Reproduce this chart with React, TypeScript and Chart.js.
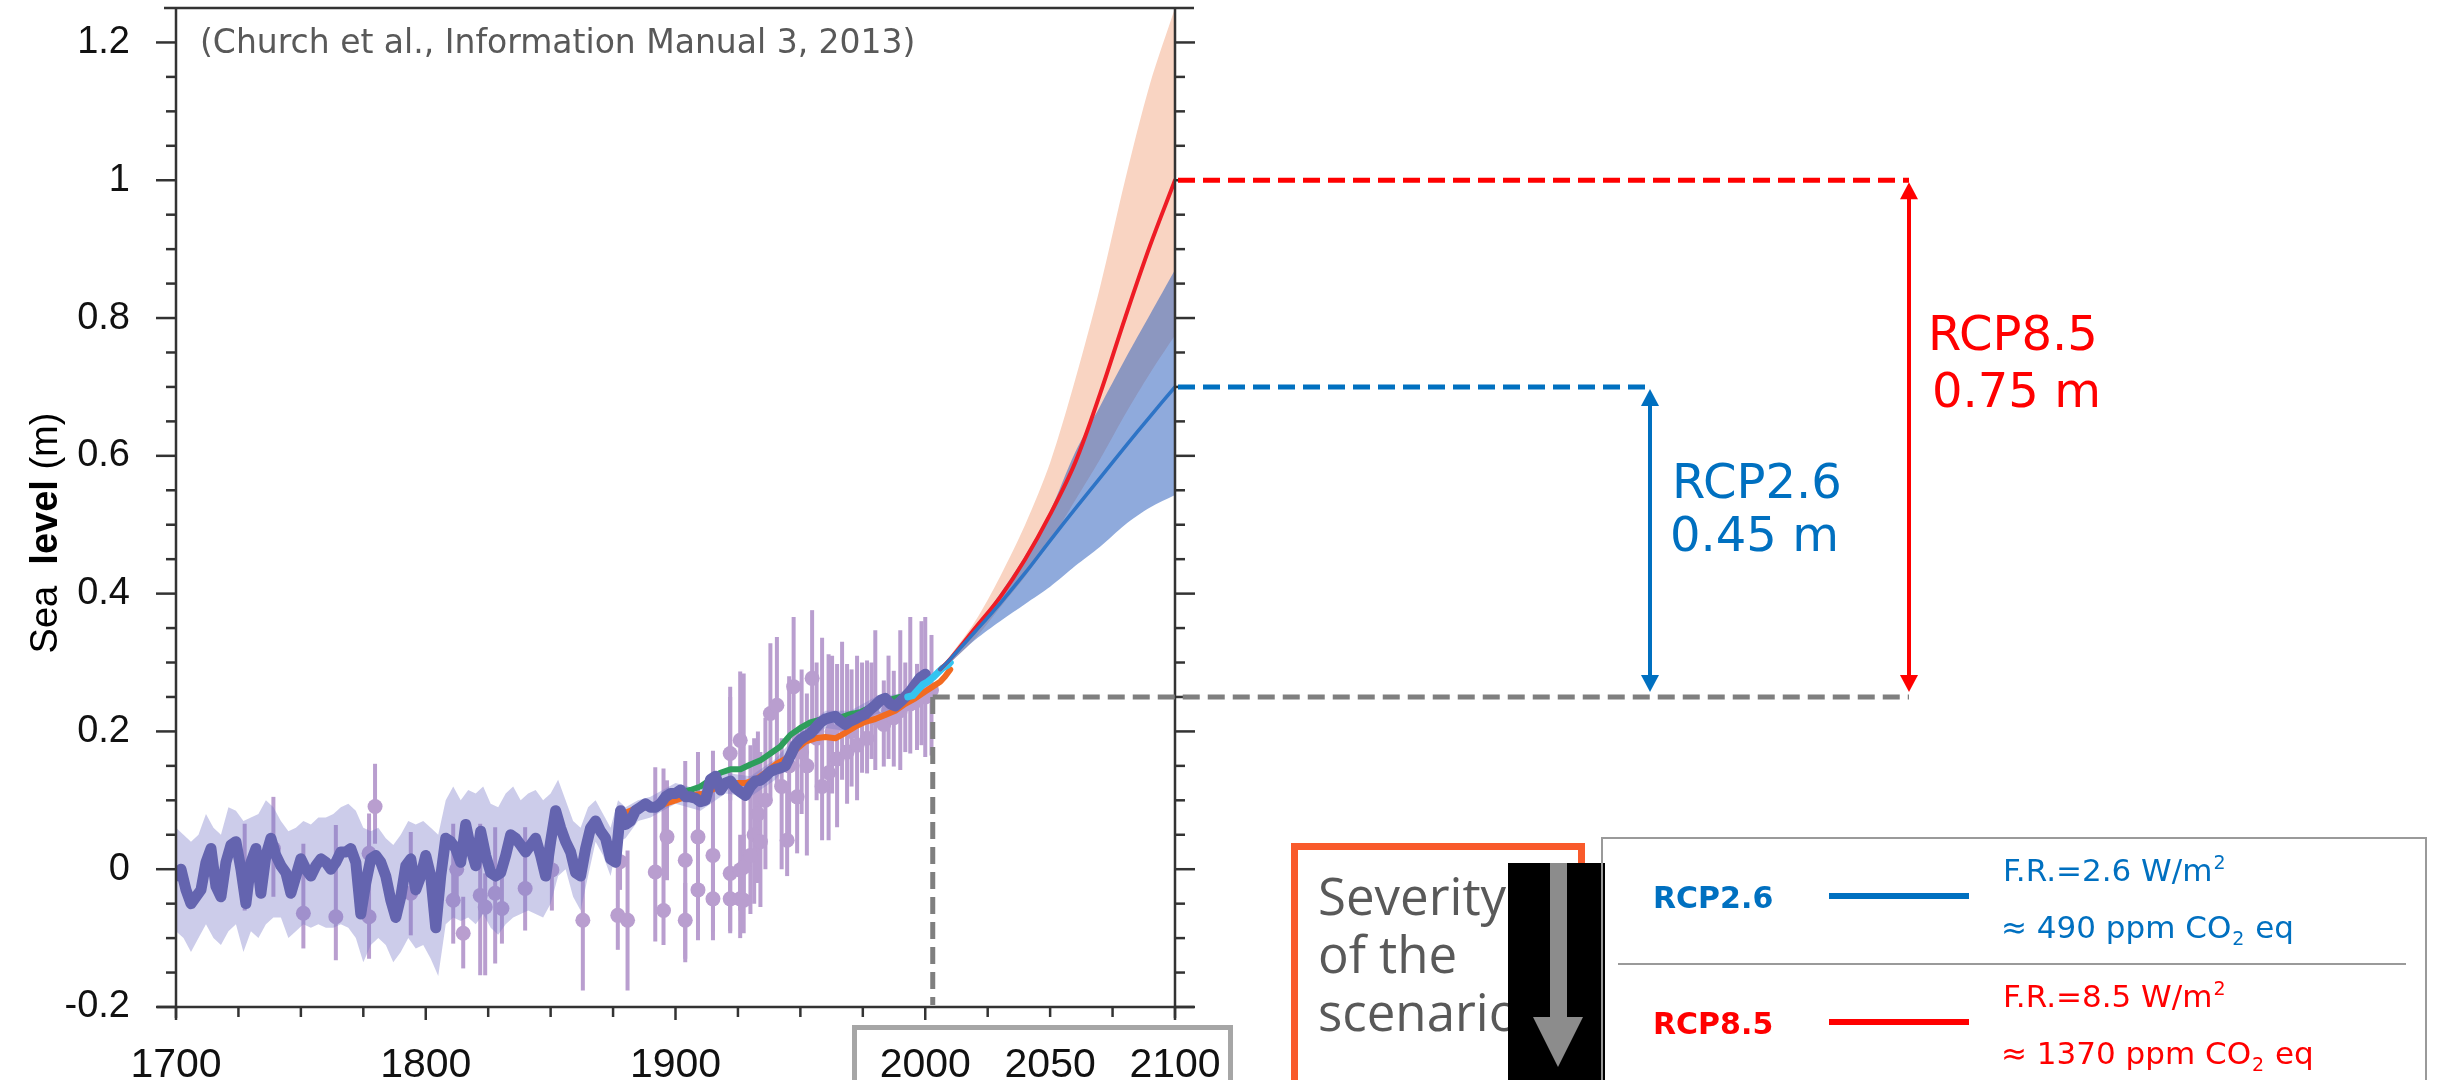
import { useEffect, useRef } from "react";
import { Chart, registerables } from "chart.js";

Chart.register(...registerables);

// ---- Reconstructed global mean sea level (m) ----
const reconYears = [
  1700, 1702, 1704, 1706, 1708, 1710, 1712, 1714, 1716, 1718, 1720, 1722, 1724, 1726, 1728, 1730,
  1732, 1734, 1736, 1738, 1740, 1742, 1744, 1746, 1748, 1750, 1752, 1754, 1756, 1758, 1760, 1762,
  1764, 1766, 1768, 1770, 1772, 1774, 1776, 1778, 1780, 1782, 1784, 1786, 1788, 1790, 1792, 1794,
  1796, 1798, 1800, 1802, 1804, 1806, 1808, 1810, 1812, 1814, 1816, 1818, 1820, 1822, 1824, 1826,
  1828, 1830, 1832, 1834, 1836, 1838, 1840, 1842, 1844, 1846, 1848, 1850, 1852, 1854, 1856, 1858,
  1860, 1862, 1864, 1866, 1868, 1870, 1872, 1874, 1876, 1878, 1880, 1882, 1884, 1886, 1888, 1890,
  1892, 1894, 1896, 1898, 1900, 1902, 1904, 1906, 1908, 1910, 1912, 1914, 1916, 1918, 1920, 1922,
  1924, 1926, 1928, 1930, 1932, 1934, 1936, 1938, 1940, 1942, 1944, 1946, 1948, 1950, 1952, 1954,
  1956, 1958, 1960, 1962, 1964, 1966, 1968, 1970, 1972, 1974, 1976, 1978, 1980, 1982, 1984, 1986,
  1988, 1990, 1992, 1994, 1996, 1998, 2000,
];
const reconLevel = [
  -0.01, 0.0, -0.03, -0.05, -0.04, -0.03, 0.01, 0.03, -0.025, -0.04, 0.01, 0.035, 0.04, 0.0, -0.05, 0.01,
  0.03, -0.035, 0.02, 0.045, 0.02, 0.005, -0.005, -0.035, -0.01, 0.015, 0.0, -0.01, 0.005, 0.015, 0.01, 0.0,
  0.01, 0.025, 0.025, 0.03, 0.01, -0.065, -0.02, 0.015, 0.02, 0.01, -0.01, -0.045, -0.07, -0.04, 0.005, 0.015,
  -0.03, -0.01, 0.02, -0.01, -0.085, -0.01, 0.045, 0.04, 0.03, 0.01, 0.065, 0.03, 0.005, 0.055, 0.02, -0.005,
  -0.01, -0.005, 0.02, 0.05, 0.045, 0.035, 0.025, 0.035, 0.045, 0.02, -0.01, 0.04, 0.085, 0.06, 0.04, 0.025,
  -0.005, -0.01, 0.03, 0.06, 0.07, 0.055, 0.045, 0.015, 0.01, 0.085, 0.065, 0.07, 0.085, 0.09, 0.095, 0.09,
  0.09, 0.095, 0.105, 0.11, 0.11, 0.115, 0.105, 0.105, 0.103, 0.098, 0.1, 0.13, 0.135, 0.115, 0.125, 0.128,
  0.118, 0.112, 0.107, 0.12, 0.128, 0.129, 0.135, 0.142, 0.145, 0.147, 0.15, 0.165, 0.18, 0.188, 0.193, 0.197,
  0.205, 0.213, 0.218, 0.22, 0.222, 0.215, 0.21, 0.215, 0.218, 0.222, 0.225, 0.232, 0.238, 0.245, 0.248, 0.24,
  0.237, 0.243, 0.25, 0.258, 0.268, 0.278, 0.283,
];

// Uncertainty envelope of the reconstruction
const envYears = [
  1700, 1703, 1706, 1709, 1712, 1715, 1718, 1721, 1724, 1727, 1730, 1733, 1736, 1739, 1742, 1745,
  1748, 1751, 1754, 1757, 1760, 1763, 1766, 1769, 1772, 1775, 1778, 1781, 1784, 1787, 1790, 1793,
  1796, 1799, 1802, 1805, 1808, 1811, 1814, 1817, 1820, 1823, 1826, 1829, 1832, 1835, 1838, 1841,
  1844, 1847, 1850, 1853, 1856, 1859, 1862, 1865, 1868, 1871, 1874, 1877, 1880, 1885, 1890, 1900,
  1910, 1920, 1930, 1940, 1950, 1960, 1970, 1980, 1990, 2000,
];
const envHigh = [
  0.06, 0.05, 0.04, 0.05, 0.08, 0.06, 0.05, 0.09, 0.085, 0.07, 0.075, 0.08, 0.1, 0.09, 0.07, 0.055,
  0.06, 0.07, 0.065, 0.075, 0.075, 0.08, 0.09, 0.095, 0.085, 0.06, 0.055, 0.06, 0.045, 0.035, 0.05, 0.07,
  0.065, 0.07, 0.06, 0.05, 0.1, 0.12, 0.1, 0.115, 0.11, 0.12, 0.095, 0.09, 0.11, 0.12, 0.1, 0.11,
  0.115, 0.1, 0.11, 0.13, 0.1, 0.07, 0.06, 0.09, 0.1, 0.08, 0.06, 0.1, 0.09, 0.1, 0.105, 0.125,
  0.115, 0.14, 0.135, 0.16, 0.2, 0.23, 0.23, 0.25, 0.255, 0.29,
];
const envLow = [
  -0.09, -0.1, -0.12, -0.1, -0.08, -0.1, -0.11, -0.09, -0.08, -0.12, -0.09, -0.1, -0.08, -0.07, -0.07, -0.1,
  -0.09, -0.08, -0.085, -0.08, -0.085, -0.085, -0.08, -0.085, -0.1, -0.135, -0.11, -0.1, -0.11, -0.135, -0.12, -0.1,
  -0.115, -0.11, -0.13, -0.155, -0.08, -0.07, -0.075, -0.07, -0.08, -0.065, -0.085, -0.095, -0.08, -0.07, -0.065, -0.06,
  -0.065, -0.07, -0.05, -0.01, 0.0, -0.04, -0.06, -0.01, 0.04, 0.02, -0.01, 0.04, 0.045, 0.07, 0.075, 0.095,
  0.085, 0.11, 0.105, 0.13, 0.175, 0.205, 0.2, 0.225, 0.23, 0.275,
];

// Individual estimates with their error ranges (m)
const proxyYears = [
  1727.5, 1739, 1751, 1764, 1777.3, 1777.3, 1779.7, 1794, 1811, 1812.4, 1815, 1821.8, 1823.8, 1827.8, 1830.5, 1839.8,
  1850.5, 1862.9, 1876.9, 1877.8, 1880.8, 1891.9, 1895.2, 1896.6, 1903.9, 1903.9, 1909, 1909, 1915, 1915, 1921.9, 1921.9,
  1921.9, 1925.9, 1925.9, 1925.9, 1927.3, 1927.3, 1930, 1931.5, 1933, 1934, 1936, 1938, 1940.6, 1942.5,
  1944.7, 1945.5, 1947.3, 1948.7, 1950.5, 1952.6, 1954.7, 1956.5, 1958.7, 1961.3, 1962.7, 1964.7, 1966.7, 1968.7, 1970.5, 1972.7,
  1974.7, 1976.7, 1978.5, 1980, 1983.4, 1985.3, 1987.4, 1990, 1992, 1994, 1996.7, 1998.5, 2000, 2002.5,
];
const proxyLevel = [
  0.0, 0.03, -0.064, -0.069, -0.069, 0.023, 0.091, -0.035, -0.045, 0.0, -0.093, -0.038, -0.055, -0.035, -0.057, -0.028,
  -0.001, -0.074, -0.067, 0.011, -0.074, -0.004, -0.06, 0.047, 0.013, -0.074, 0.047, -0.03, 0.02, -0.043, -0.006, -0.043,
  0.168, -0.001, -0.043, 0.187, 0.003, -0.045, 0.02, 0.05, 0.08, 0.04, 0.1, 0.226, 0.238, 0.12,
  0.042, 0.15, 0.265, 0.105, 0.17, 0.15, 0.277, 0.19, 0.12, 0.14, 0.2, 0.16, 0.21, 0.17, 0.2, 0.18,
  0.22, 0.19, 0.23, 0.22, 0.21, 0.23, 0.22, 0.23, 0.24, 0.24, 0.245, 0.26, 0.25, 0.26,
];
const proxyLow = [
  -0.06, -0.04, -0.115, -0.132, -0.13, -0.02, 0.037, -0.096, -0.108, -0.05, -0.144, -0.154, -0.154, -0.137, -0.108, -0.089,
  -0.06, -0.176, -0.117, -0.03, -0.176, -0.105, -0.11, -0.016, -0.135, -0.13, -0.103, -0.09, -0.103, -0.09, -0.093, -0.09,
  0.1, -0.06, -0.1, 0.12, -0.05, -0.093, -0.065, -0.05, -0.02, -0.055, 0.0, 0.1, 0.12, 0.0,
  -0.01, 0.05, 0.18, 0.023, 0.08, 0.02, 0.2, 0.1, 0.042, 0.042, 0.11, 0.061, 0.13, 0.095, 0.12, 0.1,
  0.14, 0.139, 0.16, 0.144, 0.149, 0.16, 0.149, 0.144, 0.17, 0.168, 0.173, 0.18, 0.163, 0.165,
];
const proxyHigh = [
  0.066, 0.105, 0.037, 0.064, 0.081, 0.06, 0.153, 0.054, 0.066, 0.04, -0.04, 0.066, -0.006, 0.061, 0.018, 0.061,
  0.055, 0.02, 0.018, 0.05, 0.027, 0.148, 0.146, 0.129, 0.157, -0.02, 0.17, 0.03, 0.172, 0.01, 0.265, 0.0,
  0.25, 0.05, 0.0, 0.287, 0.05, 0.284, 0.18, 0.19, 0.2, 0.17, 0.22, 0.328, 0.337, 0.19,
  0.12, 0.28, 0.366, 0.2, 0.29, 0.255, 0.376, 0.3, 0.336, 0.312, 0.31, 0.298, 0.33, 0.298, 0.29, 0.31,
  0.3, 0.303, 0.3, 0.347, 0.274, 0.31, 0.288, 0.347, 0.3, 0.366, 0.298, 0.36, 0.366, 0.34,
];

// Tide-gauge reconstructions
const gaugeAYears = [
  1880, 1884, 1888, 1892, 1896, 1900, 1904, 1908, 1912, 1916, 1920, 1924, 1928, 1932, 1936, 1940,
  1944, 1948, 1952, 1956, 1960, 1964, 1968, 1972, 1976, 1980, 1984, 1988, 1992, 1996, 2000, 2003,
  2006, 2008, 2010,
];
const gaugeALevel = [
  0.082, 0.088, 0.09, 0.09, 0.095, 0.1, 0.105, 0.108, 0.11, 0.118, 0.124, 0.125, 0.125, 0.13, 0.14, 0.152,
  0.16, 0.173, 0.185, 0.19, 0.192, 0.19, 0.198, 0.207, 0.214, 0.218, 0.224, 0.23, 0.24, 0.248, 0.258, 0.265,
  0.272, 0.28, 0.29,
];
const gaugeBYears = [
  1902, 1906, 1910, 1914, 1918, 1922, 1926, 1930, 1934, 1938, 1942, 1946, 1950, 1954, 1958, 1962,
  1966, 1970, 1974, 1978, 1982, 1986, 1990,
];
const gaugeBLevel = [
  0.112, 0.115, 0.12, 0.13, 0.14, 0.145, 0.145, 0.152, 0.158, 0.168, 0.178, 0.195, 0.205, 0.213, 0.217, 0.22,
  0.22, 0.225, 0.228, 0.235, 0.242, 0.246, 0.25,
];

// Satellite altimetry
const altYears = [1993, 1995, 1997, 1999, 2001, 2003, 2005, 2007, 2009, 2010];
const altLevel = [0.25, 0.252, 0.26, 0.268, 0.272, 0.278, 0.285, 0.292, 0.296, 0.3];

// Projections to 2100 (median and likely range)
const projYears = [2006, 2010, 2020, 2030, 2040, 2050, 2060, 2070, 2080, 2090, 2100];
const rcp26Mid = [0.29, 0.305, 0.345, 0.386, 0.43, 0.477, 0.523, 0.568, 0.613, 0.657, 0.7];
const rcp26High = [0.29, 0.305, 0.35, 0.4, 0.455, 0.52, 0.605, 0.672, 0.74, 0.805, 0.87];
const rcp26Low = [0.29, 0.3, 0.333, 0.36, 0.385, 0.41, 0.44, 0.468, 0.5, 0.525, 0.543];
const rcp85Mid = [0.29, 0.305, 0.35, 0.395, 0.45, 0.515, 0.59, 0.69, 0.8, 0.905, 1.0];
const rcp85High = [0.29, 0.31, 0.36, 0.425, 0.5, 0.59, 0.71, 0.845, 1.0, 1.14, 1.25];
const rcp85Low = [0.29, 0.3, 0.335, 0.38, 0.425, 0.475, 0.535, 0.595, 0.66, 0.72, 0.775];

// Scenario summary
const scenarioNames = ["RCP2.6", "RCP8.5"];
const scenarioRise = [0.45, 0.75];
const scenarioForcing = ["2.6", "8.5"];
const scenarioCO2 = ["490", "1370"];
const scenarioColors = ["#0070C0", "#FF0000"];
const referenceYear = 2003;

// Axes
const yTickValues = [-0.2, 0, 0.2, 0.4, 0.6, 0.8, 1, 1.2];
const yTickLabels = ["-0.2", "0", "0.2", "0.4", "0.6", "0.8", "1", "1.2"];
const xTickValues = [1700, 1800, 1900, 2000, 2050, 2100];
const xTickLabels = ["1700", "1800", "1900", "2000", "2050", "2100"];

const pts = (xs: number[], ys: number[]) => xs.map((x, i) => ({ x, y: ys[i] }));
const CLEAR = "rgba(0,0,0,0)";
const PROXY_COLOR = "#B99ECF";
const PROXY_INDEX = 4;

const line = (ctx: CanvasRenderingContext2D, x1: number, y1: number, x2: number, y2: number) => {
  ctx.beginPath();
  ctx.moveTo(x1, y1);
  ctx.lineTo(x2, y2);
  ctx.stroke();
};

const vArrow = (ctx: CanvasRenderingContext2D, x: number, yTop: number, yBot: number, color: string) => {
  const hh = 17;
  const hw = 9;
  ctx.strokeStyle = color;
  ctx.fillStyle = color;
  ctx.lineWidth = 4;
  ctx.setLineDash([]);
  line(ctx, x, yTop + hh - 2, x, yBot - hh + 2);
  ctx.beginPath();
  ctx.moveTo(x, yTop);
  ctx.lineTo(x - hw, yTop + hh);
  ctx.lineTo(x + hw, yTop + hh);
  ctx.closePath();
  ctx.fill();
  ctx.beginPath();
  ctx.moveTo(x, yBot);
  ctx.lineTo(x - hw, yBot - hh);
  ctx.lineTo(x + hw, yBot - hh);
  ctx.closePath();
  ctx.fill();
};

// Axis boxes keep their fixed size and claim no extra room for overhanging labels
const fixBox = (s: any, w: number | null, h: number | null) => {
  if (w !== null) s.width = w;
  if (h !== null) s.height = h;
  s.paddingTop = 0;
  s.paddingBottom = 0;
  s.paddingLeft = 0;
  s.paddingRight = 0;
};

const decorations = {
  id: "decorations",
  beforeDatasetDraw(chart: any, args: any) {
    if (args.index !== PROXY_INDEX) return;
    const { ctx, scales } = chart;
    ctx.save();
    ctx.strokeStyle = PROXY_COLOR;
    ctx.lineWidth = 4;
    proxyYears.forEach((yr, i) => {
      const px = scales.x.getPixelForValue(yr);
      line(ctx, px, scales.y.getPixelForValue(proxyLow[i]), px, scales.y.getPixelForValue(proxyHigh[i]));
    });
    ctx.restore();
  },
  afterDraw(chart: any) {
    const { ctx, chartArea: a, scales } = chart;
    const xs = scales.x;
    const ys = scales.y;
    ctx.save();

    // plot frame
    ctx.strokeStyle = "#333333";
    ctx.lineWidth = 2.5;
    line(ctx, a.left, a.top, a.left, a.bottom + 11);
    line(ctx, a.right, a.top, a.right, a.bottom + 11);
    line(ctx, a.left - 19, a.bottom, a.right + 19, a.bottom);
    line(ctx, a.left - 12, a.top, a.right + 19, a.top);

    // y ticks on both sides, minor every 0.05
    for (let k = 0; k <= 28; k++) {
      const v = -0.2 + k * 0.05;
      const major = yTickValues.some((t) => Math.abs(t - v) < 1e-6);
      const len = major ? 20 : 10;
      const py = ys.getPixelForValue(v);
      line(ctx, a.left - len, py, a.left, py);
      line(ctx, a.right, py, a.right + len, py);
    }
    // x ticks every 25 years
    for (let yr = 1700; yr <= 2100; yr += 25) {
      const px = xs.getPixelForValue(yr);
      line(ctx, px, a.bottom, px, a.bottom + (yr % 100 === 0 ? 13 : 10));
    }

    // source note
    ctx.fillStyle = "#595959";
    ctx.font = "33px 'DejaVu Sans'";
    ctx.textBaseline = "alphabetic";
    ctx.textAlign = "left";
    ctx.fillText("(Church et al., Information Manual 3, 2013)", 200, 53);

    // y-axis title
    ctx.save();
    ctx.translate(47, 533);
    ctx.rotate(-Math.PI / 2);
    ctx.fillStyle = "#000";
    ctx.textBaseline = "middle";
    const parts: [string, string][] = [
      ["Sea  ", "38px 'Liberation Sans'"],
      ["level", "bold 38px 'Liberation Sans'"],
      [" (m)", "38px 'Liberation Sans'"],
    ];
    let total = 0;
    parts.forEach(([t, f]) => {
      ctx.font = f;
      total += ctx.measureText(t).width;
    });
    let cx = -total / 2;
    parts.forEach(([t, f]) => {
      ctx.font = f;
      ctx.fillText(t, cx, 0);
      cx += ctx.measureText(t).width;
    });
    ctx.restore();

    // box around the projection-period year labels
    ctx.strokeStyle = "#A6A6A6";
    ctx.lineWidth = 5;
    ctx.strokeRect(854.5, 1027.5, 376, 100);

    // rise annotations
    const endLevels = [rcp26Mid[rcp26Mid.length - 1], rcp85Mid[rcp85Mid.length - 1]];
    const baseLevel = endLevels[1] - scenarioRise[1];
    const arrowX = [1650, 1909];
    const textX = [1672, 1928];
    const textY = [498, 350];
    const yBase = ys.getPixelForValue(baseLevel);
    const x2100 = xs.getPixelForValue(2100);

    ctx.lineWidth = 5;
    ctx.setLineDash([17, 8]);
    ctx.strokeStyle = "#7F7F7F";
    const xRef = xs.getPixelForValue(referenceYear);
    line(ctx, xRef, yBase, arrowX[1], yBase);
    line(ctx, xRef, yBase, xRef, a.bottom - 2);
    for (let i = 0; i < 2; i++) {
      const yEnd = ys.getPixelForValue(baseLevel + scenarioRise[i]);
      ctx.setLineDash([17, 8]);
      ctx.lineWidth = 5;
      ctx.strokeStyle = scenarioColors[i];
      line(ctx, x2100 + 3, yEnd, arrowX[i], yEnd);
      vArrow(ctx, arrowX[i], yEnd + 2, yBase - 5, scenarioColors[i]);
      ctx.fillStyle = scenarioColors[i];
      ctx.font = "48px 'DejaVu Sans'";
      ctx.textAlign = "left";
      ctx.fillText(scenarioNames[i], textX[i], textY[i]);
      ctx.fillText(`${scenarioRise[i].toFixed(2)} m`, textX[i] + (i === 1 ? 4 : -2), textY[i] + (i === 1 ? 57 : 53));
    }
    ctx.setLineDash([]);

    // severity box
    ctx.strokeStyle = "#F95A2B";
    ctx.lineWidth = 7;
    ctx.strokeRect(1294.5, 846.5, 287, 300);
    ctx.fillStyle = "#595959";
    ctx.font = "51px 'Open Sans'";
    ctx.fillText("Severity", 1318, 915);
    ctx.fillText("of the", 1318, 973);
    ctx.fillText("scenario", 1318, 1031);
    ctx.fillStyle = "#000000";
    ctx.fillRect(1508, 863, 97, 220);
    ctx.fillStyle = "#8C8C8C";
    ctx.fillRect(1550, 863, 17, 155);
    ctx.beginPath();
    ctx.moveTo(1533, 1017);
    ctx.lineTo(1583, 1017);
    ctx.lineTo(1558, 1067);
    ctx.closePath();
    ctx.fill();

    // scenario table
    ctx.strokeStyle = "#9A9A9A";
    ctx.lineWidth = 2;
    ctx.strokeRect(1602, 838, 824, 300);
    line(ctx, 1618, 964, 2406, 964);
    const rowTop = [838, 964];
    for (let i = 0; i < 2; i++) {
      const t = rowTop[i];
      const c = scenarioColors[i];
      ctx.fillStyle = c;
      ctx.font = "bold 30px 'DejaVu Sans'";
      ctx.fillText(scenarioNames[i], 1653, t + 70);
      ctx.strokeStyle = c;
      ctx.lineWidth = 6;
      line(ctx, 1829, t + 58, 1969, t + 58);
      ctx.font = "31px 'DejaVu Sans'";
      const fr = `F.R.=${scenarioForcing[i]} W/m`;
      ctx.fillText(fr, 2003, t + 43);
      let w = ctx.measureText(fr).width;
      ctx.font = "19px 'DejaVu Sans'";
      ctx.fillText("2", 2003 + w + 1, t + 31);
      ctx.font = "31px 'DejaVu Sans'";
      const co = `≈ ${scenarioCO2[i]} ppm CO`;
      ctx.fillText(co, 2001, t + 100);
      w = ctx.measureText(co).width;
      ctx.font = "19px 'DejaVu Sans'";
      ctx.fillText("2", 2001 + w + 1, t + 107);
      const w2 = ctx.measureText("2").width;
      ctx.font = "31px 'DejaVu Sans'";
      ctx.fillText(" eq", 2001 + w + w2 + 2, t + 100);
    }
    ctx.restore();
  },
};

export default function App() {
  const ref = useRef<HTMLCanvasElement>(null);

  useEffect(() => {
    const band = (xs: number[], ys: number[], color: string, order: number, fill: any, tension = 0.3) => ({
      data: pts(xs, ys),
      borderColor: CLEAR,
      borderWidth: 0,
      backgroundColor: color,
      pointRadius: 0,
      tension,
      fill,
      order,
    });
    const curve = (xs: number[], ys: number[], color: string, width: number, order: number, tension = 0) => ({
      data: pts(xs, ys),
      borderColor: color,
      borderWidth: width,
      backgroundColor: color,
      pointRadius: 0,
      fill: false,
      tension,
      borderJoinStyle: "round",
      borderCapStyle: "round",
      order,
    });

    const chart = new Chart(ref.current as HTMLCanvasElement, {
      type: "line",
      data: {
        datasets: [
          band(projYears, rcp85High, "#F9D4C2", 20, "+1"),
          band(projYears, rcp85Low, CLEAR, 20, false),
          band(projYears, rcp26High, "rgba(51,100,191,0.55)", 19, "+1"),
          band(projYears, rcp26Low, CLEAR, 19, false),
          {
            data: pts(proxyYears, proxyLevel),
            showLine: false,
            pointRadius: 7.5,
            pointBorderWidth: 0,
            pointBackgroundColor: PROXY_COLOR,
            borderColor: CLEAR,
            order: 18,
          },
          band(envYears, envHigh, "rgba(120,120,200,0.38)", 17, "+1", 0),
          band(envYears, envLow, CLEAR, 17, false, 0),
          curve(gaugeBYears, gaugeBLevel, "#2E9E5B", 6, 6),
          curve(gaugeAYears, gaugeALevel, "#F26B21", 6, 5),
          curve(reconYears, reconLevel, "#6464AF", 11, 4),
          curve(altYears, altLevel, "#34C4F0", 7, 3),
          curve(projYears, rcp85Mid, "#EE1C25", 4, 2, 0.35),
          curve(projYears, rcp26Mid, "#2E74C6", 3.5, 1, 0.35),
        ] as any,
      },
      options: {
        responsive: false,
        devicePixelRatio: 1,
        animation: false,
        events: [],
        layout: { padding: { left: 0, right: 1265, top: 8, bottom: 0 } },
        plugins: { legend: { display: false }, tooltip: { enabled: false }, title: { display: false } },
        scales: {
          x: {
            type: "linear",
            min: 1700,
            max: 2100,
            grid: { display: false },
            border: { display: false },
            afterFit: (s: any) => fixBox(s, null, 73),
            afterBuildTicks: (s: any) => {
              s.ticks = xTickValues.map((v) => ({ value: v }));
            },
            ticks: {
              autoSkip: false,
              maxRotation: 0,
              padding: 26,
              color: "#111111",
              font: { family: "'Liberation Sans'", size: 41 },
              callback: (v: any) => {
                const i = xTickValues.indexOf(Number(v));
                return i >= 0 ? xTickLabels[i] : "";
              },
            },
          },
          y: {
            type: "linear",
            min: -0.2,
            max: 1.25,
            grid: { display: false },
            border: { display: false },
            afterFit: (s: any) => fixBox(s, 176, null),
            afterBuildTicks: (s: any) => {
              s.ticks = yTickValues.map((v) => ({ value: v }));
            },
            ticks: {
              autoSkip: false,
              padding: 38,
              color: "#111111",
              font: { family: "'Liberation Sans'", size: 38 },
              callback: (v: any) => {
                const i = yTickValues.findIndex((t) => Math.abs(t - Number(v)) < 1e-6);
                return i >= 0 ? yTickLabels[i] : "";
              },
            },
          },
        },
      } as any,
      plugins: [decorations],
    });
    return () => chart.destroy();
  }, []);

  return (
    <div style={{ position: "absolute", left: 0, top: 0, width: 2440, height: 1080, background: "#ffffff", overflow: "hidden" }}>
      <canvas ref={ref} width={2440} height={1080} style={{ display: "block", width: 2440, height: 1080 }} />
    </div>
  );
}
